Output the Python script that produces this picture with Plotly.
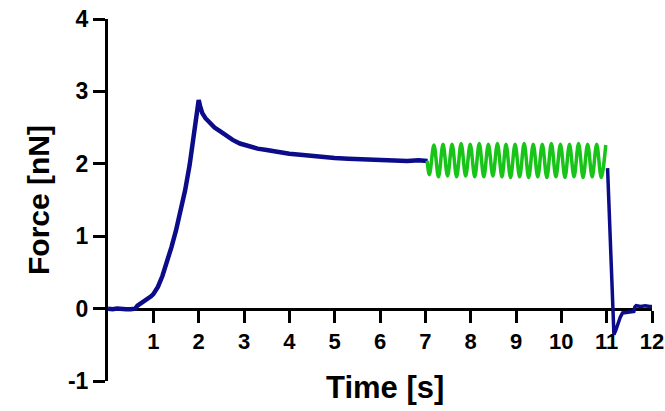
import plotly.graph_objects as go

# Blue trace: approach / relaxation (0-7 s)
t_blue1 = [0.0, 0.1, 0.2, 0.3, 0.4, 0.5, 0.6, 0.65, 0.7, 0.75, 0.8, 0.85, 0.9, 0.95, 1.0,
           1.05, 1.1, 1.2, 1.3, 1.4, 1.5, 1.6, 1.7, 1.8, 1.9, 1.95, 2.0, 2.03, 2.08, 2.15,
           2.25, 2.35, 2.47, 2.6, 2.75, 2.91, 3.1, 3.3, 3.5, 3.75, 4.0, 4.3, 4.6, 5.0, 5.3,
           5.6, 6.0, 6.3, 6.6, 6.85, 7.05]
f_blue1 = [0.0, -0.01, 0.0, -0.01, -0.01, -0.01, 0.0, 0.04, 0.06, 0.09, 0.11, 0.13, 0.15, 0.17, 0.2,
           0.24, 0.3, 0.45, 0.63, 0.85, 1.08, 1.34, 1.63, 1.98, 2.38, 2.6, 2.88, 2.8, 2.7, 2.63,
           2.56, 2.5, 2.45, 2.39, 2.33, 2.28, 2.24, 2.21, 2.19, 2.16, 2.14, 2.12, 2.10, 2.08, 2.07,
           2.06, 2.05, 2.05, 2.04, 2.05, 2.04]

# Green trace: oscillation (7-11 s), peaks and troughs
t_green = [7.04, 7.09, 7.19, 7.29, 7.39, 7.49, 7.59, 7.69, 7.79, 7.89, 7.99, 8.09, 8.19, 8.29, 8.39,
           8.49, 8.59, 8.69, 8.78, 8.88, 8.98, 9.08, 9.18, 9.28, 9.38, 9.48, 9.58, 9.68, 9.78,
           9.88, 9.98, 10.08, 10.18, 10.28, 10.38, 10.48, 10.58, 10.68, 10.78, 10.88, 10.98]
f_green = [2.04, 1.85, 2.26, 1.82, 2.27, 1.83, 2.27, 1.82, 2.28, 1.83, 2.27, 1.82, 2.28, 1.82, 2.27,
           1.83, 2.28, 1.82, 2.27, 1.81, 2.27, 1.82, 2.28, 1.81, 2.27, 1.82, 2.27, 1.81, 2.28,
           1.82, 2.27, 1.81, 2.27, 1.82, 2.28, 1.81, 2.27, 1.82, 2.27, 1.81, 2.26]

# Blue trace: retraction (11-12 s)
t_blue2 = [11.02, 11.16, 11.2, 11.25, 11.3, 11.35, 11.45, 11.55, 11.6, 11.62, 11.65, 11.75, 11.85, 11.95, 12.0]
f_blue2 = [1.94, -0.36, -0.30, -0.20, -0.12, -0.06, -0.05, -0.05, -0.04, 0.02, 0.04, 0.03, 0.04, 0.03, 0.03]

x_ticks = [1, 2, 3, 4, 5, 6, 7, 8, 9, 10, 11, 12]
y_ticks = [-1, 0, 1, 2, 3, 4]
x_title = "Time [s]"
y_title = "Force [nN]"

BLUE = "#0c0c8a"
GREEN = "#17c417"
FONT = "Liberation Sans, Arial, sans-serif"

fig = go.Figure()
fig.add_trace(go.Scatter(x=t_blue1, y=f_blue1, mode="lines",
                         line=dict(color=BLUE, width=4.5), showlegend=False))
fig.add_trace(go.Scatter(x=t_green, y=f_green, mode="lines",
                         line=dict(color=GREEN, width=3.5, shape="spline", smoothing=1.0),
                         showlegend=False))
fig.add_trace(go.Scatter(x=t_blue2, y=f_blue2, mode="lines",
                         line=dict(color=BLUE, width=3.5), showlegend=False))

# plot area spans x 108-652, y 19-381
fig.update_layout(
    width=665, height=411,
    margin=dict(l=108, r=13, t=19, b=30),
    plot_bgcolor="white", paper_bgcolor="white",
    font=dict(family=FONT, color="black"),
    xaxis=dict(
        range=[0, 12], tickvals=x_ticks, ticktext=[str(v) for v in x_ticks],
        anchor="free", position=0.2, showgrid=False, zeroline=False,
        showline=True, linecolor="black", linewidth=3,
        ticks="outside", ticklen=12, tickwidth=3, tickcolor="black",
        tickfont=dict(size=22, family=FONT, weight="bold"),
        ticklabeloverflow="allow",
        layer="below traces", automargin=False,
    ),
    yaxis=dict(
        range=[-1, 4], tickvals=y_ticks, ticktext=[str(v) for v in y_ticks],
        showgrid=False, zeroline=False,
        showline=True, linecolor="black", linewidth=3,
        ticks="outside", ticklen=12, tickwidth=3, tickcolor="black",
        tickfont=dict(size=23, family=FONT, weight="bold"),
        ticklabeloverflow="allow",
        title=dict(text="<b>" + y_title + "</b>", font=dict(size=30, family=FONT), standoff=10),
        layer="below traces", automargin=False,
    ),
    annotations=[dict(text="<b>" + x_title + "</b>", xref="paper", yref="paper",
                      x=0.51, y=-0.017, xanchor="center", yanchor="middle",
                      showarrow=False, font=dict(size=31, family=FONT, color="black"))],
)

fig.write_html("out.html", config={"displayModeBar": False},
               post_script="document.body.style.margin='0';document.body.style.overflow='hidden';")
